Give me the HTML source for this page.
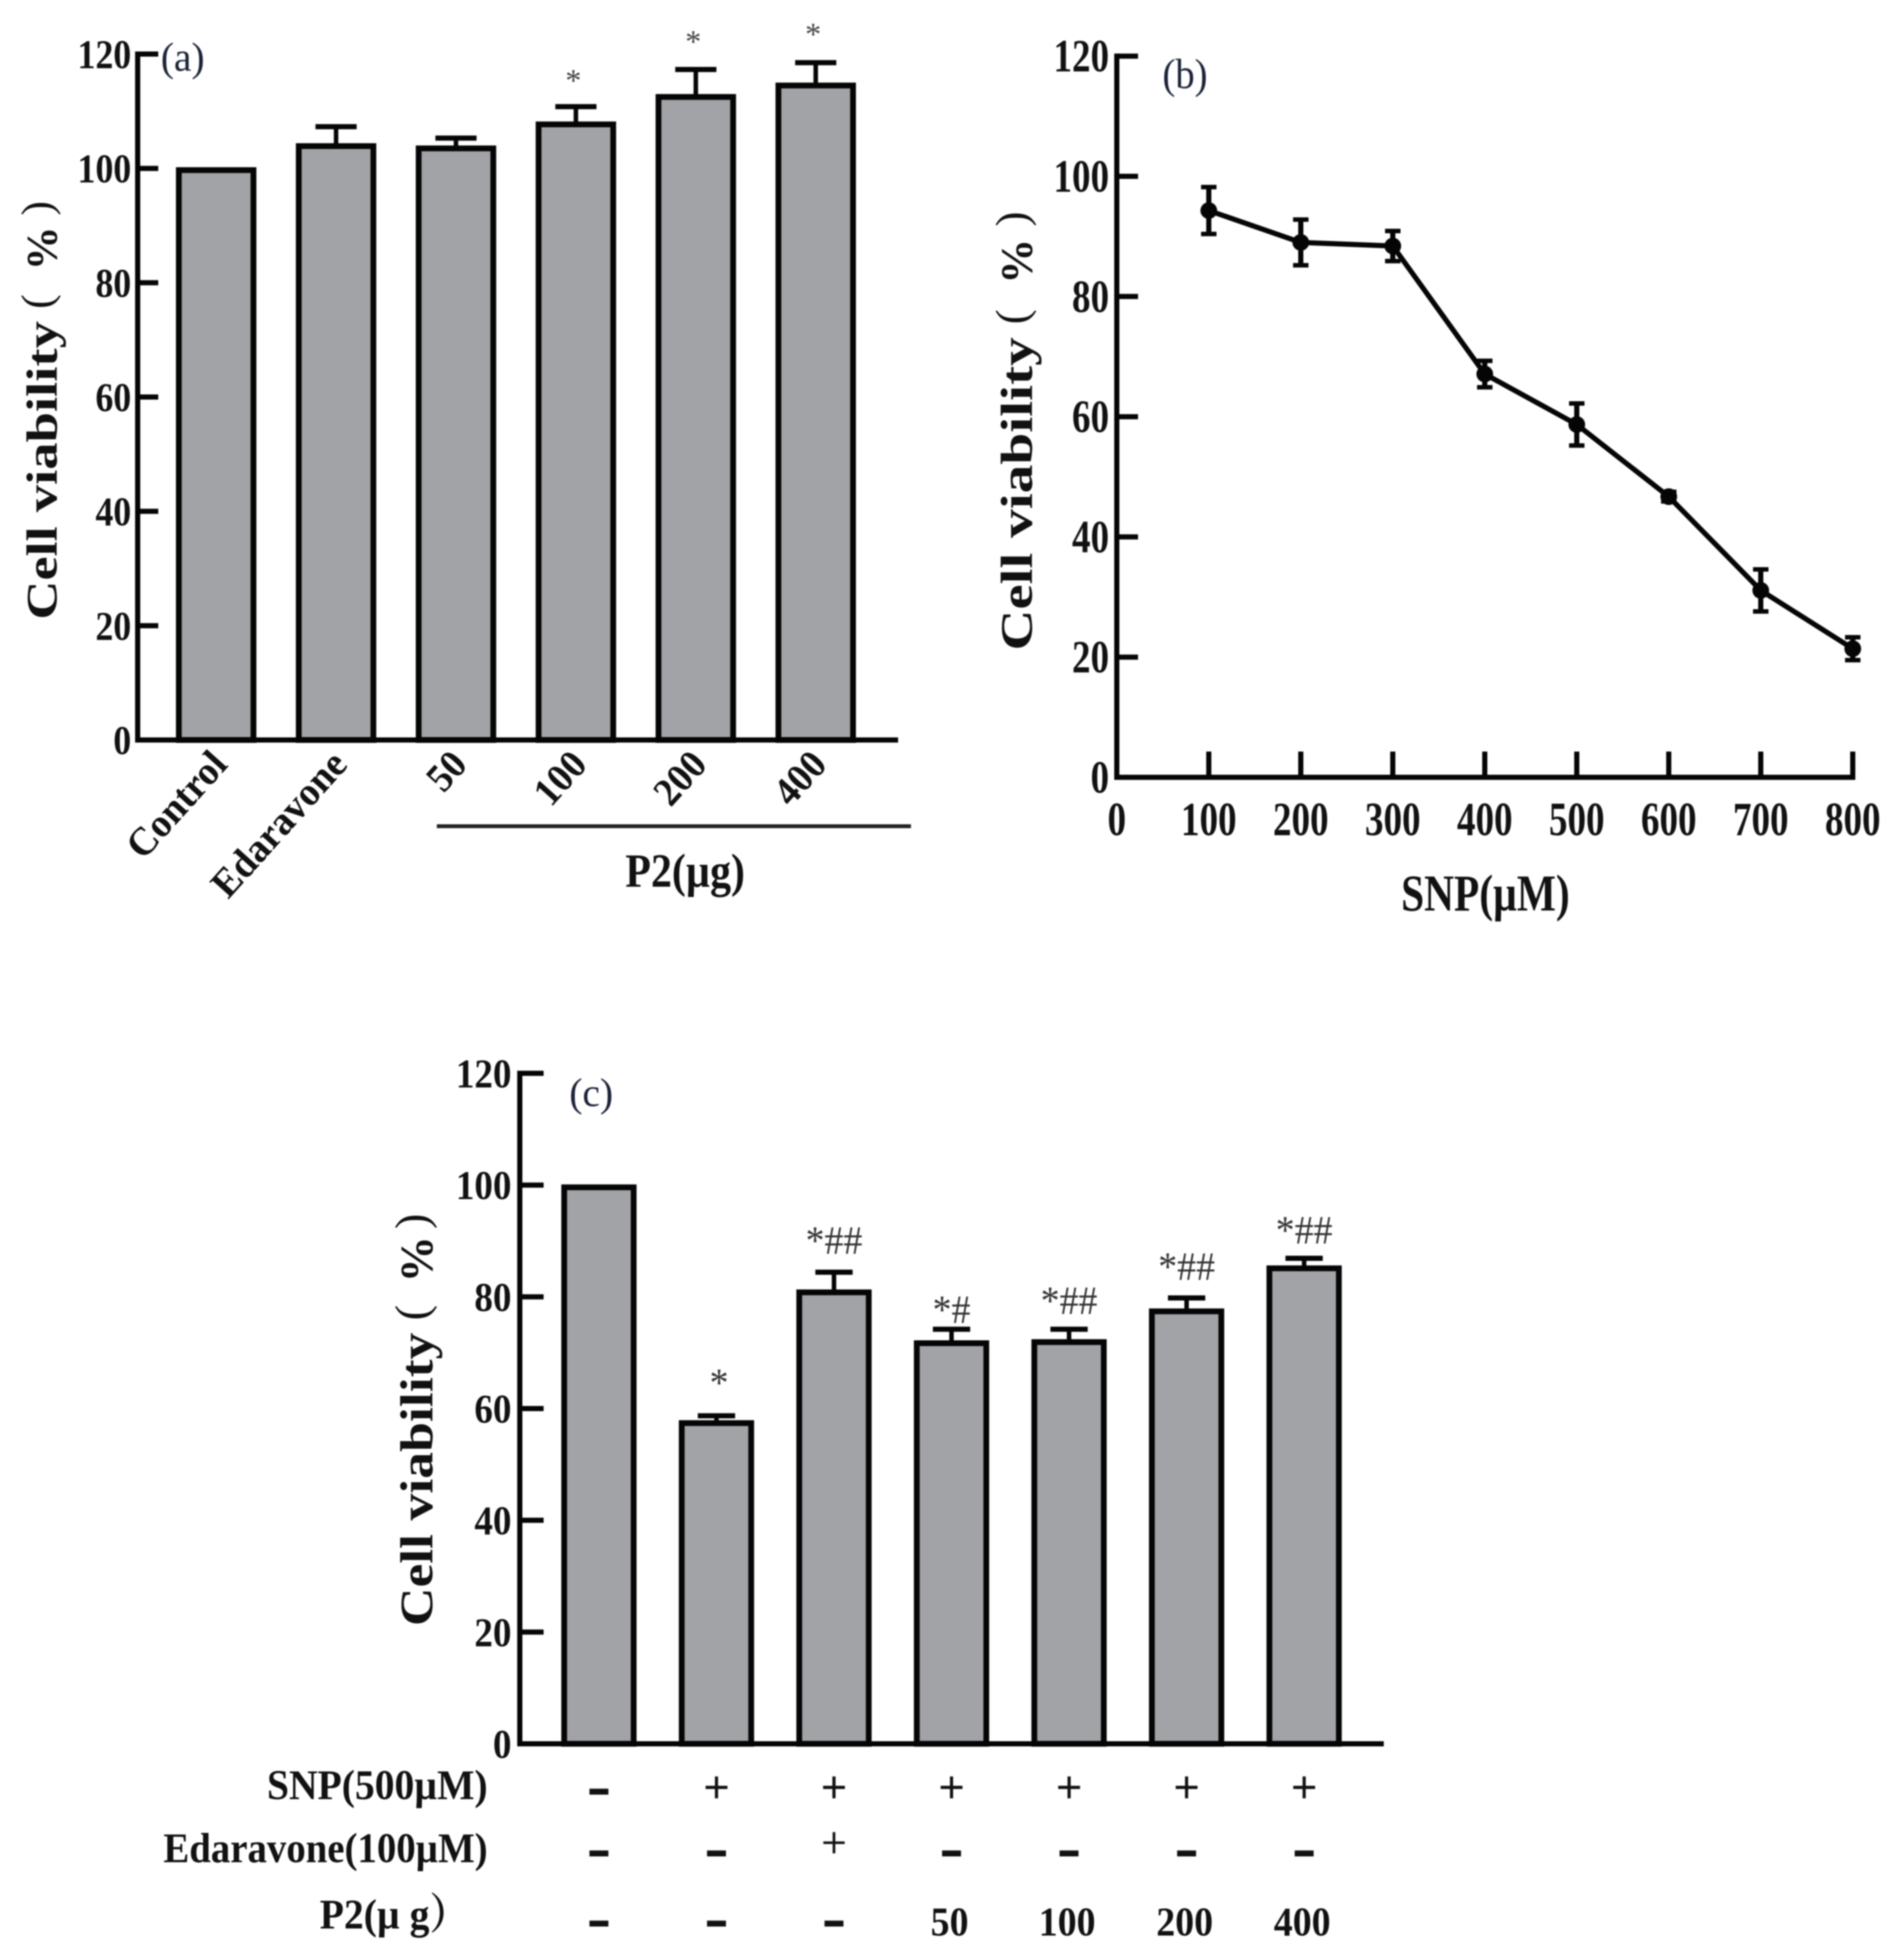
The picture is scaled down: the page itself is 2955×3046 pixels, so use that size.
<!DOCTYPE html>
<html lang="en">
<head>
<meta charset="utf-8">
<title>Cell viability charts</title>
<style>
html,body{margin:0;padding:0;background:#fff;width:2955px;height:3046px;overflow:hidden}
svg{display:block;filter:blur(1.1px)}
text{font-family:"Liberation Serif","Noto Serif CJK SC",serif;fill:#111}
.title{font-weight:bold}
</style>
</head>
<body>
<svg id="figure" xmlns="http://www.w3.org/2000/svg" width="2955" height="3046" viewBox="0 0 2955 3046">
  <rect x="0" y="0" width="2955" height="3046" fill="#fff"/>
  <g id="panelA"></g>
  <g id="panelB"></g>
  <g id="panelC"></g>

  <g transform="translate(88,963) rotate(-90)" font-size="68">
    <text class="title" x="0" y="0" textLength="145" lengthAdjust="spacingAndGlyphs">Cell</text>
    <text class="title" x="167" y="0" textLength="297" lengthAdjust="spacingAndGlyphs">viability</text>
    <text><tspan x="483" y="-8">(</tspan><tspan x="543" y="0" font-weight="bold">%</tspan><tspan x="628" y="-8">)</tspan></text>
  </g>
  <text x="250" y="110" font-size="64" style="fill:#1a2238" textLength="68" lengthAdjust="spacingAndGlyphs">(a)</text>
  <line x1="679" y1="1284" x2="1416" y2="1284" stroke="#222" stroke-width="6"/>
  <text class="title" x="972" y="1378" font-size="74" textLength="186" lengthAdjust="spacingAndGlyphs">P2(µg)</text>

  <g transform="translate(1604,1011) rotate(-90)" font-size="70">
    <text class="title" x="0" y="0" textLength="152" lengthAdjust="spacingAndGlyphs">Cell</text>
    <text class="title" x="175" y="0" textLength="312" lengthAdjust="spacingAndGlyphs">viability</text>
    <text><tspan x="507" y="-8">(</tspan><tspan x="570" y="0" font-weight="bold">%</tspan><tspan x="659" y="-8">)</tspan></text>
  </g>
  <text x="1807" y="137" font-size="66" style="fill:#1a2238" textLength="70" lengthAdjust="spacingAndGlyphs">(b)</text>
  <text class="title" x="2178" y="1415" font-size="80" textLength="262" lengthAdjust="spacingAndGlyphs">SNP(µM)</text>

  <g transform="translate(672,2527) rotate(-90)" font-size="72">
    <text class="title" x="0" y="0" textLength="143" lengthAdjust="spacingAndGlyphs">Cell</text>
    <text class="title" x="164" y="0" textLength="292" lengthAdjust="spacingAndGlyphs">viability</text>
    <text><tspan x="475" y="-8">(</tspan><tspan x="534" y="0" font-weight="bold">%</tspan><tspan x="617" y="-8">)</tspan></text>
  </g>
  <text x="885" y="1719" font-size="62" style="fill:#1a2238" textLength="68" lengthAdjust="spacingAndGlyphs">(c)</text>
  <text class="title" x="415" y="2796" font-size="66" textLength="343" lengthAdjust="spacingAndGlyphs">SNP(500µM)</text>
  <text class="title" x="254" y="2894" font-size="66" textLength="504" lengthAdjust="spacingAndGlyphs">Edaravone(100µM)</text>
  <text class="title" x="497" y="2997" font-size="66" textLength="232" lengthAdjust="spacingAndGlyphs">P2(µ g）</text>
</svg>
<script>
// ---------- Panel (a) data ----------
const aCategories = ['Control', 'Edaravone', '50', '100', '200', '400'];
const aValues = [99.7, 103.9, 103.5, 107.7, 112.5, 114.5];
const aErrorTops = [null, 107.3, 105.3, 110.8, 117.3, 118.5];
const aSigLabels = ['', '', '', '*', '*', '*'];
const aSigLevels = [null, null, null, 116, 122.8, 124.1];
const aYTicks = [0, 20, 40, 60, 80, 100, 120];

// ---------- Panel (b) data ----------
const bDoses = [100, 200, 300, 400, 500, 600, 700, 800];
const bValues = [94.3, 89, 88.4, 67.1, 58.7, 46.7, 31.1, 21.4];
const bErrors = [3.9, 3.8, 2.5, 2.2, 3.5, 0.8, 3.5, 1.9];
const bYTicks = [0, 20, 40, 60, 80, 100, 120];
const bXTicks = [0, 100, 200, 300, 400, 500, 600, 700, 800];

// ---------- Panel (c) data ----------
const cValues = [99.6, 57.4, 80.8, 71.7, 71.9, 77.4, 85.1];
const cErrorTops = [null, 58.7, 84.4, 74.2, 74.2, 79.8, 86.9];
const cSigLabels = ['', '*', '*##', '*#', '*##', '*##', '*##'];
const cSigLevels = [null, 64.3, 89.8, 77.4, 79, 85.1, 91.6];
const cYTicks = [0, 20, 40, 60, 80, 100, 120];
const cRowSnp = ['-', '+', '+', '+', '+', '+', '+'];
const cRowEdaravone = ['-', '-', '+', '-', '-', '-', '-'];
const cRowP2 = ['-', '-', '-', '50', '100', '200', '400'];

// ---------- Drawing helpers ----------
const NS = 'http://www.w3.org/2000/svg';
const BAR_FILL = '#a2a3a7';

function line(parent, x1, y1, x2, y2, w, name, color) {
  const el = document.createElementNS(NS, 'line');
  el.setAttribute('x1', x1);
  el.setAttribute('y1', y1);
  el.setAttribute('x2', x2);
  el.setAttribute('y2', y2);
  el.setAttribute('stroke', color || '#050505');
  el.setAttribute('stroke-width', w);
  
  
  parent.appendChild(el);
  return el;
}

function rect(parent, x, y, w, h, sw, name) {
  const el = document.createElementNS(NS, 'rect');
  el.setAttribute('x', x);
  el.setAttribute('y', y);
  el.setAttribute('width', w);
  el.setAttribute('height', h);
  el.setAttribute('fill', BAR_FILL);
  el.setAttribute('stroke', '#050505');
  el.setAttribute('stroke-width', sw);
  
  
  parent.appendChild(el);
  return el;
}

function label(parent, x, y, str, fs, opt, name) {
  const el = document.createElementNS(NS, 'text');
  const sx = opt.sx || 1;
  const rot = opt.rot ? ' rotate(' + opt.rot + ')' : '';
  el.setAttribute('transform', 'translate(' + x + ',' + y + ')' + rot + ' scale(' + sx + ',1)');
  el.setAttribute('font-size', fs);
  el.setAttribute('text-anchor', opt.anchor || 'middle');
  if (opt.bold) el.setAttribute('font-weight', 'bold');
  if (opt.fill) el.style.fill = opt.fill;
  if (opt.stroke) {
    el.setAttribute('stroke', '#111');
    el.setAttribute('stroke-width', opt.stroke);
  }
  el.textContent = str;
  
  
  parent.appendChild(el);
  return el;
}

// ---------- Panel (a) ----------
(function () {
  const g = document.getElementById('panelA');
  const y = v => 1150 - v * 8.883;
  const x = i => 336 + i * 186.4;
  const axisX = 214, barW = 116;

  aValues.forEach((v, i) => {
    if (aErrorTops[i] !== null) {
      line(g, x(i), y(v), x(i), y(aErrorTops[i]), 7, 'error-bar-' + aCategories[i].toLowerCase());
      line(g, x(i) - 32, y(aErrorTops[i]), x(i) + 32, y(aErrorTops[i]), 8, 'error-cap-' + aCategories[i].toLowerCase());
    }
    rect(g, x(i) - barW / 2, y(v), barW, y(0) - y(v), 9, 'bar-' + aCategories[i].toLowerCase());
    if (aSigLabels[i]) label(g, x(i) - 4, y(aSigLevels[i]) + 22, aSigLabels[i], 50, { fill: '#444' }, 'significance-' + aCategories[i]);
  });

  line(g, axisX, y(120) - 4, axisX, y(0) + 4, 8, 'y-axis-line');
  line(g, axisX - 4, y(0), 1396, y(0), 8, 'x-axis-line');
  aYTicks.forEach(t => {
    line(g, axisX, y(t), axisX + 32, y(t), 8, 'y-tick-' + t);
    label(g, 204, y(t) + 22, String(t), 64, { anchor: 'end', bold: true, sx: 0.87 }, 'y-tick-label-' + t);
  });
  aCategories.forEach((c, i) => {
    label(g, x(i) + 20, 1190, c, 62, { anchor: 'end', bold: true, rot: -48, sx: i < 2 ? 0.97 : 0.95 }, 'x-tick-label-' + c.toLowerCase());
  });
})();

// ---------- Panel (b) ----------
(function () {
  const g = document.getElementById('panelB');
  const y = v => 1208 - v * 9.34;
  const x = d => 1736 + d * 1.43;

  line(g, x(0), y(120) - 4, x(0), y(0) + 4, 8, 'y-axis-line');
  line(g, x(0) - 4, y(0), x(800) + 4, y(0), 8, 'x-axis-line');
  bYTicks.forEach(t => {
    line(g, x(0), y(t), x(0) + 33, y(t), 8, 'y-tick-' + t);
    label(g, 1724, y(t) + 24, String(t), 72, { anchor: 'end', bold: true, sx: 0.8 }, 'y-tick-label-' + t);
  });
  bXTicks.forEach(t => {
    if (t > 0) line(g, x(t), y(0), x(t), y(0) - 40, 8, 'x-tick-' + t);
    label(g, x(t), 1298, String(t), 74, { bold: true, sx: 0.78 }, 'x-tick-label-' + t);
  });

  const points = bDoses.map((d, i) => x(d) + ',' + y(bValues[i])).join(' ');
  const path = document.createElementNS(NS, 'polyline');
  path.setAttribute('points', points);
  path.setAttribute('fill', 'none');
  path.setAttribute('stroke', '#050505');
  path.setAttribute('stroke-width', 8);
  
  
  g.appendChild(path);

  bDoses.forEach((d, i) => {
    const hi = y(bValues[i] + bErrors[i]);
    const lo = y(bValues[i] - bErrors[i]);
    line(g, x(d), hi, x(d), lo, 8, 'error-bar-' + d);
    line(g, x(d) - 12, hi, x(d) + 12, hi, 7, 'error-cap-top-' + d);
    line(g, x(d) - 12, lo, x(d) + 12, lo, 7, 'error-cap-bottom-' + d);
    const dot = document.createElementNS(NS, 'circle');
    dot.setAttribute('cx', x(d));
    dot.setAttribute('cy', y(bValues[i]));
    dot.setAttribute('r', 13);
    dot.setAttribute('fill', '#050505');
    
    
    g.appendChild(dot);
  });
})();

// ---------- Panel (c) ----------
(function () {
  const g = document.getElementById('panelC');
  const y = v => 2710 - v * 8.683;
  const x = i => 931 + i * 182.7;
  const axisX = 808, barW = 108;

  cValues.forEach((v, i) => {
    if (cErrorTops[i] !== null) {
      line(g, x(i), y(v), x(i), y(cErrorTops[i]), 7, 'error-bar-' + i);
      line(g, x(i) - 29, y(cErrorTops[i]), x(i) + 29, y(cErrorTops[i]), 8, 'error-cap-' + i);
    }
    rect(g, x(i) - barW / 2, y(v), barW, y(0) - y(v), 9, 'bar-' + i);
    if (cSigLabels[i]) label(g, x(i) + (i === 1 ? 4 : 0), y(cSigLevels[i]) + 18, cSigLabels[i], 62, { fill: '#333', sx: 0.95 }, 'significance-' + i);
  });

  line(g, axisX, y(120) - 4, axisX, y(0) + 4, 8, 'y-axis-line');
  line(g, axisX - 4, y(0), 2151, y(0), 8, 'x-axis-line');
  cYTicks.forEach(t => {
    line(g, axisX, y(t), axisX + 37, y(t), 8, 'y-tick-' + t);
    label(g, 795, y(t) + 22, String(t), 64, { anchor: 'end', bold: true, sx: 0.9 }, 'y-tick-label-' + t);
  });

  const rowCenters = { snp: 2785, edaravone: 2881, p2: 2990 };
  [[cRowSnp, 'snp'], [cRowEdaravone, 'edaravone'], [cRowP2, 'p2']].forEach(row => {
    row[0].forEach((m, i) => {
      const name = 'row-' + row[1] + '-mark-' + i;
      if (m === '-') {
        label(g, x(i), rowCenters[row[1]] + 25, '-', 108, { bold: true, sx: 1.05 }, name);
      } else if (m === '+') {
        const base = row[1] === 'edaravone' ? 2887 : 2801;
        label(g, x(i), base, '+', 70, { stroke: row[1] === 'edaravone' ? 0.6 : 1.4 }, name);
      } else {
        label(g, x(i) - 3, 3008, m, 64, { bold: true, sx: 0.92 }, name);
      }
    });
  });
})();
</script>
</body>
</html>
